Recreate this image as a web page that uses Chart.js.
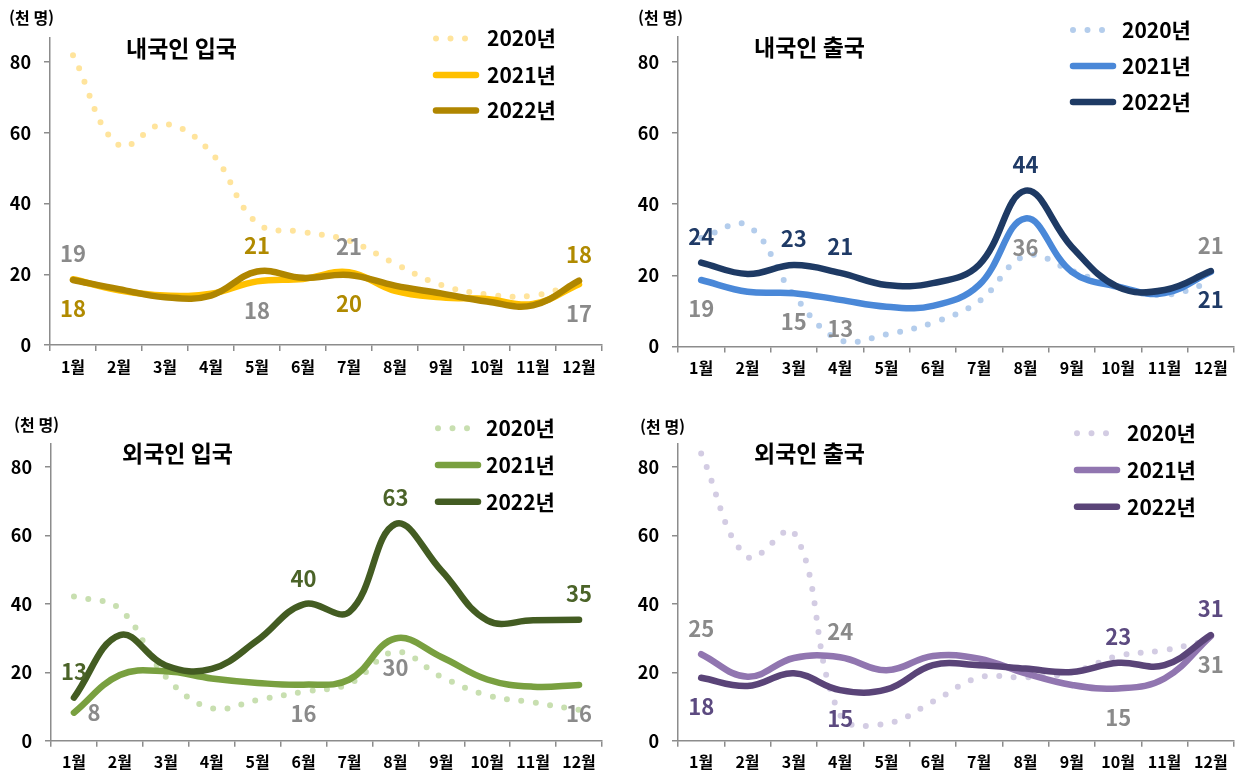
<!DOCTYPE html>
<html lang="ko">
<head>
<meta charset="utf-8">
<title>내국인·외국인 출입국 추이</title>
<script src="https://cdn.jsdelivr.net/npm/chart.js@4.4.1/dist/chart.umd.min.js"></script>
<style>
  html, body { margin: 0; padding: 0; background: #fff; }
  #wrap { position: relative; width: 1238px; height: 776px; }
  #wrap canvas { position: absolute; }
</style>
</head>
<body>
<div id="wrap">
  <canvas id="c1" width="619" height="388" style="left:0;top:0"></canvas>
  <canvas id="c2" width="619" height="388" style="left:619px;top:0"></canvas>
  <canvas id="c3" width="619" height="388" style="left:0;top:388px"></canvas>
  <canvas id="c4" width="619" height="388" style="left:619px;top:388px"></canvas>
</div>
<script>
// categories / ticks
const months = ['1월', '2월', '3월', '4월', '5월', '6월', '7월', '8월', '9월', '10월', '11월', '12월'];
const years = ['2020년', '2021년', '2022년'];
const yTickValues = [0, 20, 40, 60, 80];
const yMax = 87;

// 내국인 입국 (천 명)
const inEntry2020 = [82, 56.5, 62.5, 54.5, 34.5, 32, 29.5, 23, 17, 14.3, 14, 17.5];
const inEntry2021 = [18.6, 15.5, 14, 14.5, 18, 18.7, 20.6, 15.3, 13.5, 13, 11.6, 17.2];
const inEntry2022 = [18.4, 15.8, 13.5, 14, 20.8, 19, 19.8, 16.8, 14.6, 12.3, 11.2, 18.2];

// 내국인 출국
const inExit2020 = [30.5, 34, 14.5, 1.8, 3.4, 6.7, 12.7, 25.5, 21.3, 16.5, 14.5, 18];
const inExit2021 = [18.7, 15.4, 15, 13.1, 11.2, 11.4, 17.3, 36, 21, 16.8, 15, 21];
const inExit2022 = [23.6, 20.4, 22.9, 20.7, 17.3, 17.8, 23, 43.8, 28, 16.7, 15.9, 21.2];

// 외국인 입국
const fgEntry2020 = [42.2, 38.5, 18.7, 9.5, 11.9, 14.3, 16.7, 26, 18.7, 13.3, 11.2, 9];
const fgEntry2021 = [8.2, 19.2, 20.3, 18.2, 16.9, 16.4, 17.9, 29.9, 24.5, 17.9, 15.8, 16.3];
const fgEntry2022 = [12.6, 30.9, 22, 21, 29.4, 39.9, 37.7, 63.4, 49.8, 35.2, 35.2, 35.4];

// 외국인 출국
const fgExit2020 = [84, 53.8, 61, 7.5, 5, 11.4, 18.5, 18.5, 20, 24.8, 26.5, 29.5];
const fgExit2021 = [25.3, 18.7, 24.2, 24.4, 20.6, 24.8, 24, 19.7, 16.3, 15.3, 18.2, 30.6];
const fgExit2022 = [18.4, 16, 19.7, 14.8, 15, 22.1, 22.1, 21.1, 20.1, 22.8, 22.1, 30.9];

const FONT = '"Noto Sans CJK KR", "Noto Sans", sans-serif';
const GREY = '#8A8A8A';
const AXIS = '#8C8C8C';
Chart.defaults.font.family = FONT;

// panel layout + which points get a value label ([dataset, month, where])
const panels = [
  { id: 'c1', title: '내국인 입국', series: [inEntry2020, inEntry2021, inEntry2022],
    colors: ['#FFE49C', '#FFC000', '#B08600'], labelColor: '#B08A00',
    area: { left: 50, right: 602, top: 37.5, bottom: 345 },
    unit: [9, 18], head: [126, 48], legend: { x: 436, tx: 487, rows: [38.5, 75, 110.5] },
    marks: [[1, 0, 'up'], [2, 0, 'down'], [2, 4, 'up'], [1, 4, 'down'], [1, 6, 'up'], [2, 6, 'down'], [2, 11, 'up'], [1, 11, 'down']] },
  { id: 'c2', title: '내국인 출국', series: [inExit2020, inExit2021, inExit2022],
    colors: ['#B4CDEC', '#4A88D8', '#1E3A64'], labelColor: '#1F3A66',
    area: { left: 59, right: 615, top: 37, bottom: 346.5 },
    unit: [19, 18], head: [135, 47], legend: { x: 454, tx: 503, rows: [30, 66, 102] },
    marks: [[2, 0, 'up'], [1, 0, 'down'], [2, 2, 'up'], [1, 2, 'down'], [2, 3, 'up'], [1, 3, 'down'], [2, 7, 'up'], [1, 7, 'down'], [1, 11, 'up'], [2, 11, 'down']] },
  { id: 'c3', title: '외국인 입국', series: [fgEntry2020, fgEntry2021, fgEntry2022],
    colors: ['#C8DFB0', '#79A040', '#435C22'], labelColor: '#4B6328',
    area: { left: 51, right: 602, top: 55.3, bottom: 352.7 },
    unit: [14, 37], head: [122, 65], legend: { x: 438, tx: 486, rows: [40.3, 77, 113.7] },
    marks: [[2, 0, 'up'], [1, 0, 'right'], [2, 5, 'up'], [1, 5, 'down'], [2, 7, 'up'], [1, 7, 'down'], [2, 11, 'up'], [1, 11, 'down']] },
  { id: 'c4', title: '외국인 출국', series: [fgExit2020, fgExit2021, fgExit2022],
    colors: ['#D3CCE3', '#9176B0', '#5A4478'], labelColor: '#5C4A80',
    area: { left: 59, right: 615, top: 55.3, bottom: 352.7 },
    unit: [21, 38.7], head: [135, 65], legend: { x: 458, tx: 508, rows: [45.3, 82, 118.7] },
    marks: [[1, 0, 'up'], [2, 0, 'down'], [1, 3, 'up'], [2, 3, 'down'], [2, 9, 'up'], [1, 9, 'down'], [2, 11, 'up'], [1, 11, 'down']] }
];

// labels, unit, title and legend drawn on the canvas
const decor = {
  id: 'decor',
  afterDatasetsDraw(chart, args, opts) {
    const ctx = chart.ctx;
    const p = opts.panel;
    ctx.save();
    ctx.textAlign = 'center';
    ctx.textBaseline = 'middle';
    ctx.font = 'bold 22px ' + FONT;
    p.marks.forEach(([d, i, where]) => {
      const pt = chart.getDatasetMeta(d).data[i];
      const val = chart.data.datasets[d].data[i];
      let dx = 0, dy = 0;
      if (where === 'up') dy = -26;
      if (where === 'down') dy = 29;
      if (where === 'right') dx = 20;
      ctx.fillStyle = d === 1 ? GREY : p.labelColor;
      ctx.fillText(String(Math.round(val)), pt.x + dx, pt.y + dy);
    });

    ctx.textAlign = 'left';
    ctx.fillStyle = '#000';
    ctx.font = 'bold 16px ' + FONT;
    ctx.fillText('(천 명)', p.unit[0], p.unit[1]);
    ctx.font = 'bold 23px ' + FONT;
    ctx.fillText(p.title, p.head[0], p.head[1]);

    // legend
    const lg = p.legend;
    years.forEach((y, k) => {
      const ly = lg.rows[k];
      ctx.beginPath();
      ctx.strokeStyle = p.colors[k];
      ctx.lineCap = 'round';
      if (k === 0) {
        ctx.lineWidth = 6;
        ctx.setLineDash([0, 14.5]);
        ctx.moveTo(lg.x, ly);
        ctx.lineTo(lg.x + 29.5, ly);
      } else {
        ctx.lineWidth = 6.5;
        ctx.setLineDash([]);
        ctx.moveTo(lg.x, ly);
        ctx.lineTo(lg.x + 40, ly);
      }
      ctx.stroke();
      ctx.setLineDash([]);
      ctx.fillStyle = '#000';
      ctx.font = 'bold 21px ' + FONT;
      ctx.fillText(y, lg.tx, ly);
    });
    ctx.restore();
  }
};

panels.forEach(p => {
  const H = 388, W = 619;
  new Chart(p.id, {
    type: 'line',
    data: {
      labels: months,
      datasets: p.series.map((vals, k) => ({
        label: years[k],
        data: vals,
        borderColor: p.colors[k],
        borderWidth: k === 0 ? 6 : 6.5,
        borderDash: k === 0 ? [0, 14.5] : [],
        borderCapStyle: 'round',
        borderJoinStyle: 'round',
        pointRadius: 0,
        tension: 0.4,
        fill: false,
        order: 2 - k // 2022 on top
      }))
    },
    options: {
      responsive: false,
      animation: false,
      layout: { padding: { top: p.area.top, right: W - p.area.right, left: 0, bottom: 0 } },
      plugins: {
        legend: { display: false },
        tooltip: { enabled: false },
        decor: { panel: p }
      },
      scales: {
        x: {
          type: 'category',
          offset: true,
          afterFit: s => { s.height = H - p.area.bottom; },
          grid: { offset: true, drawOnChartArea: false, drawTicks: true, tickLength: 6, color: AXIS, lineWidth: 1.5 },
          border: { display: true, color: AXIS, width: 1.5 },
          ticks: { color: '#000', font: { size: 16, weight: 'bold' }, padding: 6, maxRotation: 0, autoSkip: false }
        },
        y: {
          min: 0,
          max: yMax,
          afterFit: s => { s.width = p.area.left; },
          afterBuildTicks: s => { s.ticks = yTickValues.map(v => ({ value: v })); },
          grid: { drawOnChartArea: false, drawTicks: true, tickLength: 6, color: AXIS, lineWidth: 1.5 },
          border: { display: true, color: AXIS, width: 1.5 },
          ticks: { color: '#000', font: { size: 18, weight: 'bold' }, padding: 13 }
        }
      }
    },
    plugins: [decor]
  });
});
</script>
</body>
</html>
